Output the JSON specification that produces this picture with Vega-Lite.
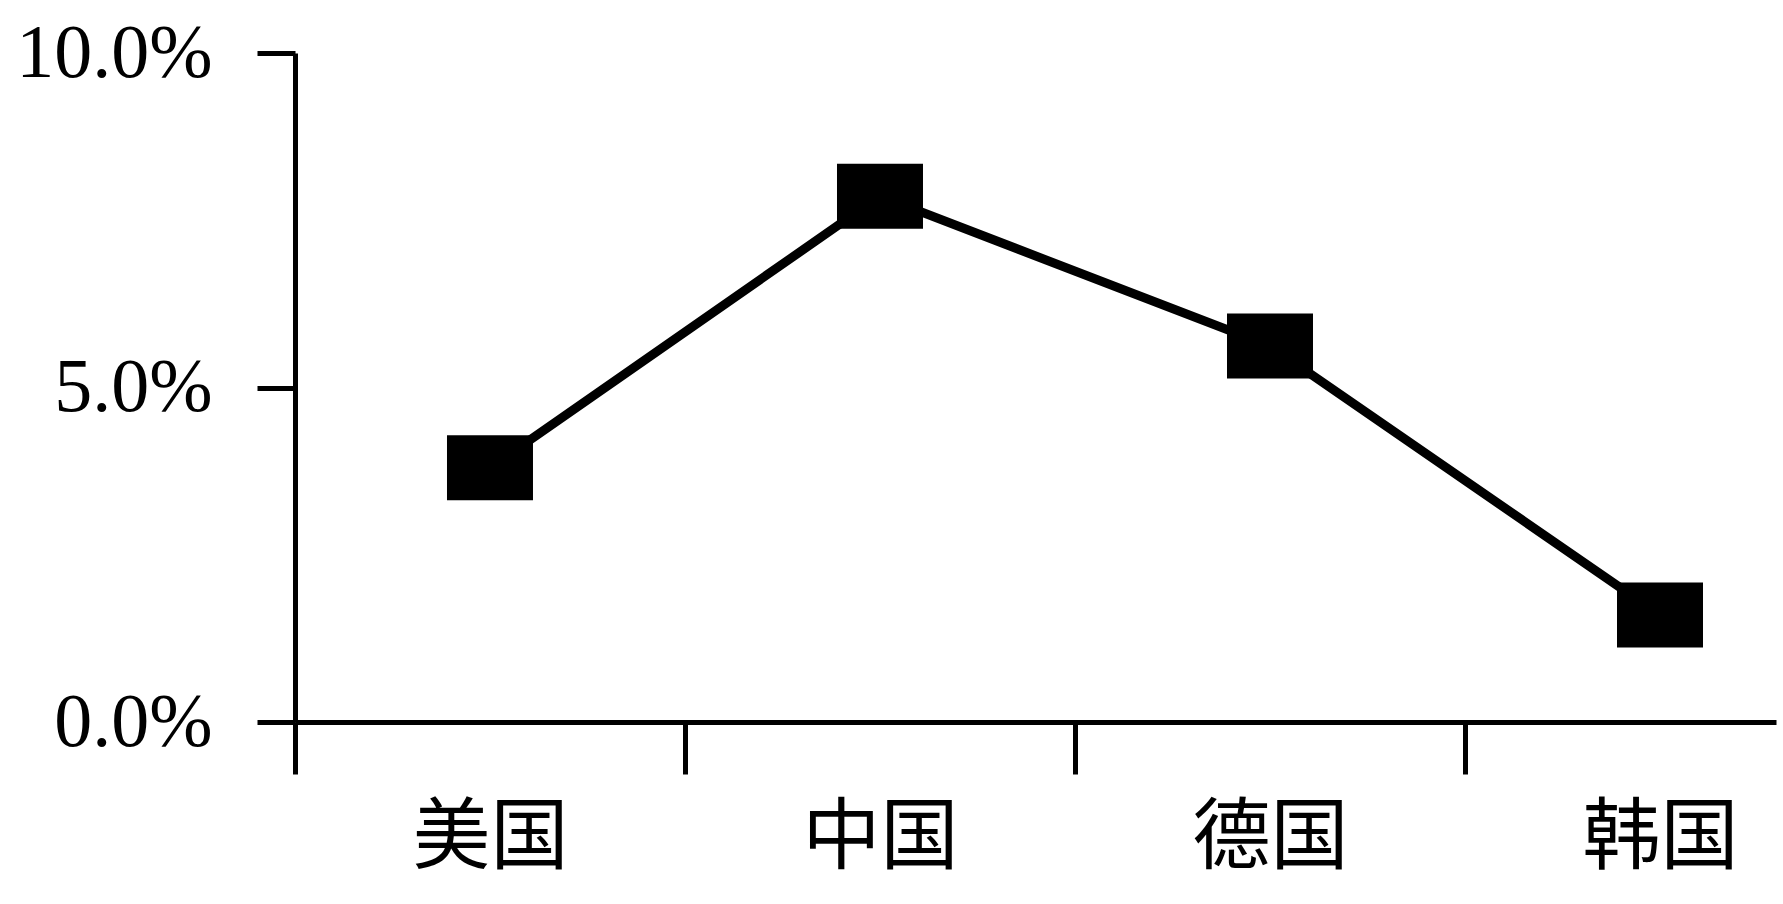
{
  "$schema": "https://vega.github.io/schema/vega-lite/v6.json",
  "autosize": {"type": "none"},
  "padding": {"left": 295, "top": 53, "right": 7, "bottom": 182},
  "width": 1481,
  "height": 669,
  "background": "white",
  "data": {
    "values": [
      {"country": "美国", "share": 0.038},
      {"country": "中国", "share": 0.0786},
      {"country": "德国", "share": 0.0562},
      {"country": "韩国", "share": 0.016}
    ]
  },
  "encoding": {
    "x": {
      "field": "country",
      "type": "nominal",
      "sort": null,
      "scale": {"type": "point", "padding": 0.3987, "align": 0.627},
      "axis": {
        "title": null,
        "tickOffset": -195,
        "labelOffset": 195,
        "labelAngle": 0,
        "labelFont": "Noto Sans CJK SC",
        "labelFontSize": 78,
        "labelColor": "black",
        "labelPadding": 26,
        "labelBaseline": "top",
        "labelLimit": 400,
        "tickSize": 52,
        "tickWidth": 5,
        "tickColor": "black",
        "domainColor": "black",
        "domainWidth": 5,
        "grid": false
      }
    },
    "y": {
      "field": "share",
      "type": "quantitative",
      "scale": {"domain": [0, 0.1]},
      "axis": {
        "values": [0, 0.05, 0.1],
        "format": ".1%",
        "title": null,
        "labelFont": "Liberation Serif",
        "labelFontSize": 76,
        "labelColor": "black",
        "labelPadding": 45,
        "labelLimit": 400,
        "tickSize": 38,
        "tickWidth": 5,
        "tickColor": "black",
        "domainColor": "black",
        "domainWidth": 5,
        "grid": false
      }
    }
  },
  "layer": [
    {"mark": {"type": "line", "color": "black", "strokeWidth": 9}},
    {
      "mark": {
        "type": "point",
        "shape": "M-1,-0.756H1V0.756H-1Z",
        "size": 7396,
        "filled": true,
        "color": "black",
        "opacity": 1
      }
    }
  ],
  "config": {"view": {"stroke": null}}
}
